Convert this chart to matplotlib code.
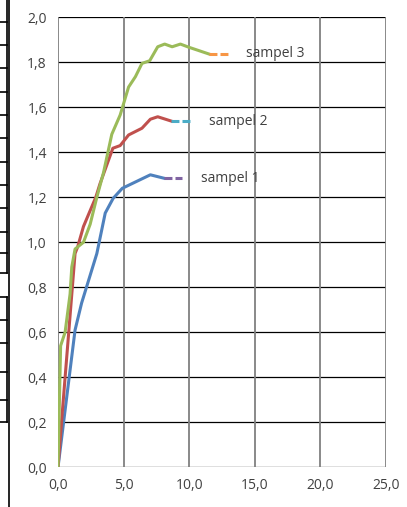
import matplotlib
matplotlib.use("Agg")
import matplotlib.pyplot as plt
from matplotlib.lines import Line2D

# Data
s1_x = [0.0, 1.3, 1.8, 2.96, 3.6, 4.2, 4.9, 7.04, 8.06]
s1_y = [0.0, 0.61, 0.73, 0.95, 1.13, 1.195, 1.24, 1.30, 1.285]
s1_tail_x = [8.06, 9.46]
s1_tail_y = [1.285, 1.285]

s2_x = [0.0, 0.28, 1.3, 1.5, 1.94, 2.3, 2.88, 3.2, 4.18, 4.74, 5.38, 6.4, 7.04, 7.6, 8.62]
s2_y = [0.0, 0.21, 0.95, 0.98, 1.07, 1.12, 1.20, 1.26, 1.418, 1.43, 1.477, 1.507, 1.547, 1.558, 1.539]
s2_tail_x = [8.62, 10.1]
s2_tail_y = [1.539, 1.539]

s3_x = [0.0, 0.2, 0.54, 0.92, 1.05, 1.3, 1.94, 2.45, 2.96, 3.47, 4.1, 4.74, 5.38, 5.9, 6.4, 6.99, 7.6, 8.13, 8.7, 9.33, 9.97, 11.5]
s3_y = [0.0, 0.54, 0.60, 0.77, 0.89, 0.97, 1.00, 1.08, 1.20, 1.31, 1.48, 1.566, 1.69, 1.736, 1.795, 1.807, 1.869, 1.881, 1.869, 1.881, 1.867, 1.837]
s3_tail_x = [11.5, 12.98]
s3_tail_y = [1.837, 1.837]

labels = ["sampel 1", "sampel 2", "sampel 3"]
label_pos = [(10.9, 1.285), (11.5, 1.539), (14.3, 1.837)]

xticks = [0, 5, 10, 15, 20, 25]
yticks = [0.0, 0.2, 0.4, 0.6, 0.8, 1.0, 1.2, 1.4, 1.6, 1.8, 2.0]

W, H = 407, 507
fig = plt.figure(figsize=(W / 100, H / 100), dpi=100)
ax = fig.add_axes([58 / W, (H - 467.3) / H, 328 / W, 450 / H])

lw = 2.2
dash = (0, (2.6, 1.0))
ax.plot(s1_x, s1_y, color="#4F81BD", lw=lw, solid_joinstyle="round", zorder=3)
ax.plot(s2_x, s2_y, color="#C0504D", lw=lw, solid_joinstyle="round", zorder=3)
ax.plot(s3_x, s3_y, color="#9BBB59", lw=lw, solid_joinstyle="round", zorder=3)
ax.plot(s1_tail_x, s1_tail_y, color="#8064A2", lw=lw, ls=dash, zorder=3)
ax.plot(s2_tail_x, s2_tail_y, color="#4BACC6", lw=lw, ls=dash, zorder=3)
ax.plot(s3_tail_x, s3_tail_y, color="#F79646", lw=lw, ls=dash, zorder=3)

for lab, (lx, ly) in zip(labels, label_pos):
    ax.text(lx, ly, lab, fontsize=10, color="#404040", va="center", ha="left",
            family="Open Sans", zorder=4)

ax.set_xlim(0, 25)
ax.set_ylim(0, 2.0)
ax.set_xticks(xticks)
ax.set_yticks(yticks)
ax.set_xticklabels([f"{v:.1f}".replace(".", ",") for v in xticks])
ax.set_yticklabels([f"{v:.1f}".replace(".", ",") for v in yticks])
ax.tick_params(length=0, labelsize=10, labelcolor="#404040", pad=8)
for lab in ax.get_xticklabels() + ax.get_yticklabels():
    lab.set_family("Open Sans")

for y in yticks:
    ax.axhline(y, color="black", lw=0.9, zorder=1)
for x in xticks:
    ax.axvline(x, color="#808080", lw=1.3, zorder=1)
for sp in ax.spines.values():
    sp.set_visible(False)

# Partial table edges at the left of the original picture
def fline(x0, y0, x1, y1, lw=1.2):
    fig.add_artist(Line2D([x0 / W, x1 / W], [1 - y0 / H, 1 - y1 / H],
                          color="black", lw=lw, transform=fig.transFigure))

fline(9, 0, 9, H)
fline(7, 0, 7, 273)
for y in [22, 45, 68, 92, 115, 138, 162, 185, 208, 232, 253, 273]:
    fline(0, y, 7, y)
fline(7, 297, 7, 422)
for y in [297, 320, 343, 372, 400, 422]:
    fline(0, y, 7, y)

fig.savefig("out.png", dpi=100)
